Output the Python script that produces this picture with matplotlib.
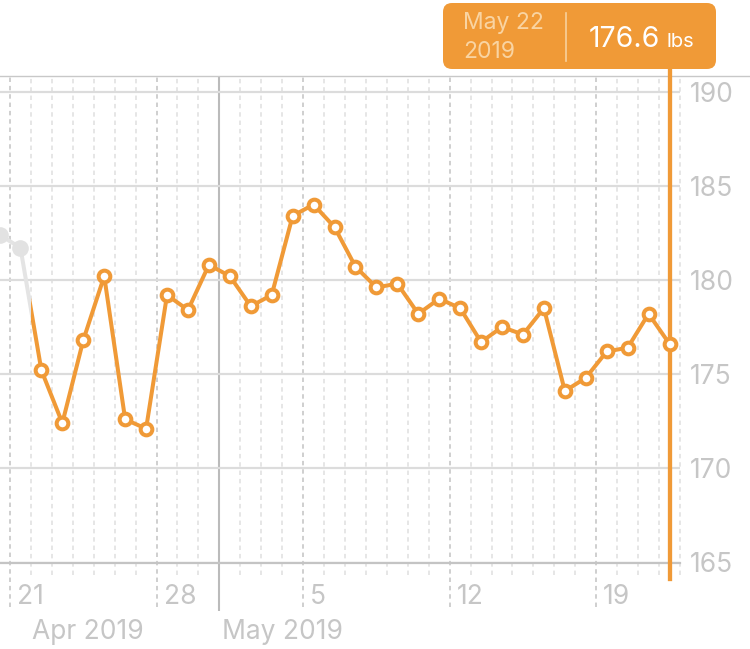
import matplotlib
matplotlib.use('Agg')
import matplotlib.pyplot as plt
import matplotlib.dates as mdates
import matplotlib.transforms as mtransforms
from matplotlib.patches import FancyBboxPatch, Rectangle
from matplotlib.lines import Line2D
import pandas as pd

plt.rcParams['font.family'] = ['Inter', 'DejaVu Sans']
plt.rcParams['lines.scale_dashes'] = False

# ---------------- data ----------------
context_dates = ['2019-04-20', '2019-04-21']
context_values = [182.4, 181.7]

series_start = '2019-04-22'
series_end = '2019-05-22'
values = [175.2, 172.4, 176.8, 180.2, 172.6, 172.1, 179.2, 178.4, 180.8,
          180.2, 178.6, 179.2, 183.4, 184.0, 182.8, 180.7, 179.6, 179.8,
          178.2, 179.0, 178.5, 176.7, 177.5, 177.1, 178.5, 174.1, 174.8,
          176.2, 176.4, 178.2, 176.6]

selected_date = '2019-05-22'
selected_value = 176.6
unit = 'lbs'

y_ticks = [165, 170, 175, 180, 185, 190]
week_ticks = ['2019-04-21', '2019-04-28', '2019-05-05', '2019-05-12', '2019-05-19']
week_labels = ['21', '28', '5', '12', '19']
month_ticks = ['2019-05-01']
month_labels = ['Apr 2019', 'May 2019']
grid_start = '2019-04-21'
grid_end = '2019-05-23'

# ---------------- style ----------------
ORANGE = '#F09A37'
TXT = '#C6C6C6'
MINOR = '#E4E4E4'
MAJOR = '#CBCBCB'
MONTH = '#BBBBBB'
HGRID = '#DCDCDC'
GREYPT = '#E2E2E2'

W, H = 750, 649
fig = plt.figure(figsize=(W / 100, H / 100), dpi=100)
ax_bottom_px, ax_top_px, ax_right_px = 562.5, 76.0, 680.0
ax_h_px = ax_bottom_px - ax_top_px
ax = fig.add_axes([0, (H - ax_bottom_px) / H, ax_right_px / W, ax_h_px / H])

def noon(d):
    return mdates.date2num(pd.Timestamp(d)) + 0.5

def day(d):
    return mdates.date2num(pd.Timestamp(d))

series_dates = pd.date_range(series_start, series_end, freq='D')
xs = [noon(d) for d in series_dates]
cx = [noon(d) for d in context_dates]

x0 = day(grid_start) - 10 / 20.95
x1 = day(grid_end)
ax.set_xlim(x0, x1)
ax.set_ylim(165, 190 + (ax_top_px - 91.5) / -18.84)

xtrans = ax.get_xaxis_transform()
px = 1 / ax_h_px

# vertical grid
all_days = pd.date_range(grid_start, grid_end, freq='D')
wk = set(pd.Timestamp(d) for d in week_ticks)
mo = set(pd.Timestamp(d) for d in month_ticks)
minor_days = [day(d) for d in all_days if d not in wk and d not in mo]
ax.vlines(minor_days, -(575 - ax_bottom_px) * px, 1, transform=xtrans,
          colors=MINOR, lw=1.3, linestyles=(0, (3.2, 2.8)), clip_on=False, zorder=1)
ax.vlines([day(d) for d in week_ticks], -(607 - ax_bottom_px) * px, 1, transform=xtrans,
          colors=MAJOR, lw=1.3, linestyles=(0, (3.2, 2.8)), clip_on=False, zorder=1)
ax.vlines([day(d) for d in month_ticks], -(611 - ax_bottom_px) * px, 1, transform=xtrans,
          colors=MONTH, lw=1.5, clip_on=False, zorder=1)

# horizontal grid / axes
ax.set_yticks(y_ticks)
ax.yaxis.tick_right()
ax.tick_params(axis='y', length=0, pad=7.0, labelsize=19, labelcolor=TXT)
ax.set_xticks([])
ax.grid(axis='y', color=HGRID, lw=1.6, zorder=0)
for s in ['top', 'left', 'right']:
    ax.spines[s].set_visible(False)
ax.spines['bottom'].set_color('#C4C4C4')
ax.spines['bottom'].set_linewidth(1.6)
ax.add_line(Line2D([0, W / ax_right_px], [1, 1], transform=ax.transAxes,
                   color='#C8C8C8', lw=1.0, clip_on=False))

# week labels
lab_tr = mtransforms.offset_copy(xtrans, fig=fig, x=7, y=0, units='dots')
for d, t in zip(week_ticks, week_labels):
    ax.text(day(d), -(597 - ax_bottom_px) * px, t, transform=lab_tr,
            ha='left', va='center', fontsize=19, color=TXT)
# month labels
ax.text(32 / ax_right_px, -(632 - ax_bottom_px) * px, month_labels[0],
        transform=ax.transAxes, ha='left', va='center', fontsize=19, color=TXT)
mon_tr = mtransforms.offset_copy(xtrans, fig=fig, x=3, y=0, units='dots')
ax.text(day(month_ticks[0]), -(632 - ax_bottom_px) * px, month_labels[1],
        transform=mon_tr, ha='left', va='center', fontsize=19, color=TXT, clip_on=False)

# split boundary between context and selected range
boundary = day(series_start)
clip_left = Rectangle((x0 - 5, 0), boundary - (x0 - 5), 1, transform=xtrans)
clip_right = Rectangle((boundary, 0), 100, 1, transform=xtrans)

gl, = ax.plot(cx + [xs[0]], context_values + [values[0]], color='#E4E4E4', lw=2.9,
              solid_capstyle='butt', zorder=3)
gl.set_clip_path(clip_left)
ax.plot(cx, context_values, 'o', ms=12, color=GREYPT, mew=0, zorder=4)

ol, = ax.plot([cx[-1]] + xs, [context_values[-1]] + values, color=ORANGE, lw=2.9,
              solid_joinstyle='round', zorder=3)
ol.set_clip_path(clip_right)
ax.plot(xs, values, 'o', ms=8.4, mfc='white', mec=ORANGE, mew=2.9, zorder=5)

# cursor
ax.axvline(noon(selected_date), ymin=-(579 - ax_bottom_px) * px,
           ymax=1 + (ax_top_px - 69) * px, color=ORANGE, lw=3.1, clip_on=False, zorder=4)

# tooltip
dpi = fig.dpi_scale_trans
def P(x, y):
    return (x / 100, (H - y) / 100)
box = FancyBboxPatch(P(443, 69), (716 - 443) / 100, (69 - 3) / 100,
                     boxstyle='round,pad=0,rounding_size=0.09', transform=dpi,
                     facecolor=ORANGE, edgecolor='none', zorder=10)
fig.add_artist(box)
fig.add_artist(Line2D([566 / 100, 566 / 100], [(H - 61) / 100, (H - 13) / 100],
                      transform=dpi, color='#F8D19C', lw=1.2, zorder=11))
sd = pd.Timestamp(selected_date)
LIGHT = '#F9D4A2'
fig.text(*P(463, 23), f"{sd.strftime('%b')} {sd.day}", transform=dpi, ha='left',
         va='center', fontsize=16.5, color=LIGHT, zorder=12)
fig.text(*P(463, 52), f"{sd.year}", transform=dpi, ha='left',
         va='center', fontsize=16.5, color=LIGHT, zorder=12)
fig.text(*P(589, 46.7), f"{selected_value:.1f}", transform=dpi, ha='left',
         va='baseline', fontsize=20.5, color='white', zorder=12)
fig.text(*P(667, 46.7), unit, transform=dpi, ha='left',
         va='baseline', fontsize=14.5, color='white', zorder=12)

fig.savefig('out.png', dpi=100, facecolor='white')
